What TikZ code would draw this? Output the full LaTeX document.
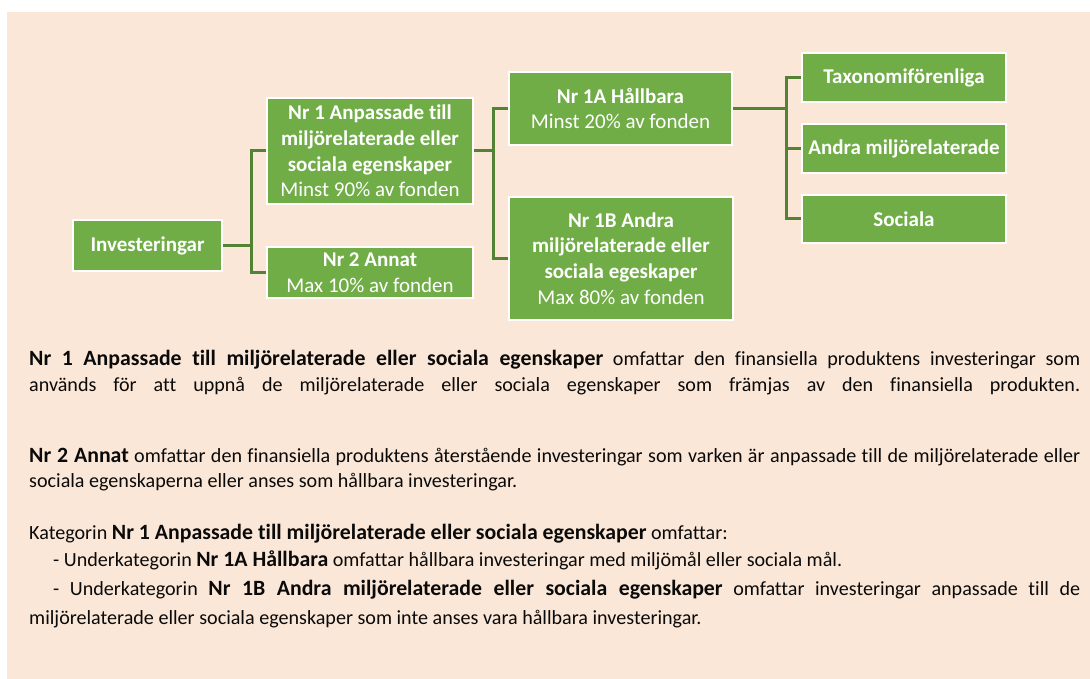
\documentclass[tikz,border=0pt]{standalone}
\usepackage{fontspec}
\setmainfont[Ligatures=NoCommon]{Carlito}
\definecolor{beige}{HTML}{FBE7D7}
\definecolor{boxgreen}{HTML}{70AD47}
\definecolor{conngreen}{HTML}{548235}
\definecolor{bodytext}{HTML}{0A0A0A}
\newcommand\bigbold[1]{{\fontsize{21.8}{24}\selectfont\bfseries #1}}
\pgfdeclarelayer{bg}
\pgfsetlayers{bg,main}
\begin{document}
\begin{tikzpicture}[x=1pt,y=-1pt,
  gbox/.style={draw=white, line width=2pt, fill=boxgreen, text=white, inner sep=0pt,
    align=center, font=\fontsize{21}{25.6}\selectfont},
  conn/.style={draw=conngreen, line width=3pt},
  body/.style={anchor=base west, inner sep=0pt, font=\fontsize{20.1}{24}\selectfont, text=bodytext}
]
\useasboundingbox (0,0) rectangle (1090,679);
\begin{pgfonlayer}{bg}
\fill[white] (0,0) rectangle (1090,679);
\fill[beige] (7,12) rectangle (1090,679);
\end{pgfonlayer}

% boxes
\node[gbox, minimum width=149pt, minimum height=51pt] (inv) at (147.5,245.5) {\textbf{Investeringar}};
\node[gbox, minimum width=206pt, minimum height=106pt] (n1) at (370,151)
  {\textbf{Nr 1 Anpassade till}\\\textbf{miljörelaterade eller}\\\textbf{sociala egenskaper}\\Minst 90\% av fonden};
\node[gbox, minimum width=206pt, minimum height=51pt] (n2) at (370,272.5)
  {\textbf{Nr 2 Annat}\\Max 10\% av fonden};
\node[gbox, minimum width=223pt, minimum height=73pt] (n1a) at (620.5,108.5)
  {\textbf{Nr 1A Hållbara}\\Minst 20\% av fonden};
\node[gbox, minimum width=224pt, minimum height=123pt] (n1b) at (621,258.5)
  {\textbf{Nr 1B Andra}\\\textbf{miljörelaterade eller}\\\textbf{sociala egeskaper}\\Max 80\% av fonden};
\node[gbox, minimum width=204pt, minimum height=49pt] (tax) at (904,77.5) {\textbf{Taxonomiförenliga}};
\node[gbox, minimum width=204pt, minimum height=49pt] (andra) at (904,148.5) {\textbf{Andra miljörelaterade}};
\node[gbox, minimum width=204pt, minimum height=48pt] (soc) at (904,219) {\textbf{Sociala}};

% connectors
\begin{pgfonlayer}{bg}
\draw[conn] (inv.east) -- ++(28,0) coordinate (j1);
\draw[conn] (n1.west) -| (j1) |- (n2.west);
\draw[conn] (n1.east) -- ++(19,0) coordinate (j2);
\draw[conn] (n1a.west) -| (j2) |- (n1b.west);
\draw[conn] (n1a.east) -- ++(53,0) coordinate (j3);
\draw[conn] (tax.west) -| (j3) |- (soc.west);
\draw[conn] (andra.west) -- (andra.west -| j3);
\end{pgfonlayer}

% body text
\node[body] (l1) at (29,365) {\makebox[1051pt][s]{\bigbold{Nr 1 Anpassade till miljörelaterade eller sociala egenskaper} omfattar den finansiella produktens investeringar som}};
\node[body] (l2) at (29,391) {\makebox[1051pt][s]{används för att uppnå de miljörelaterade eller sociala egenskaper som främjas av den finansiella produkten.}};
\node[body] (l3) at (29,462) {\makebox[1051pt][s]{\bigbold{Nr 2 Annat} omfattar den finansiella produktens återstående investeringar som varken är anpassade till de miljörelaterade eller}};
\node[body] (l4) at (29,487) {sociala egenskaperna eller anses som hållbara investeringar.};
\node[body] (l5) at (29,539) {Kategorin \bigbold{Nr 1 Anpassade till miljörelaterade eller sociala egenskaper} omfattar:};
\node[body] (l6) at (53,566) {- Underkategorin \bigbold{Nr 1A Hållbara} omfattar hållbara investeringar med miljömål eller sociala mål.};
\node[body] (l7) at (53,595) {\makebox[1027pt][s]{- Underkategorin \bigbold{Nr 1B Andra miljörelaterade eller sociala egenskaper} omfattar investeringar anpassade till de}};
\node[body] (l8) at (29,624) {miljörelaterade eller sociala egenskaper som inte anses vara hållbara investeringar.};
\end{tikzpicture}
\end{document}
